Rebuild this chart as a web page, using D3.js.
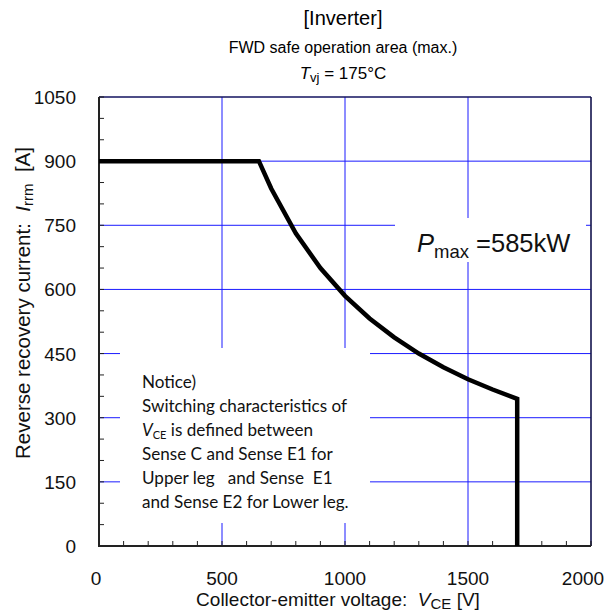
<!DOCTYPE html>
<html><head><meta charset="utf-8">
<script src="https://cdn.jsdelivr.net/npm/d3@7"></script>
<style>body{margin:0;background:#fff}svg{display:block}text{white-space:pre}</style>
</head><body>
<script>
const xTicks = [0, 500, 1000, 1500, 2000];
const yTicks = [0, 150, 300, 450, 600, 750, 900, 1050];
const voltage = [0, 650, 700, 800, 900, 1000, 1100, 1200, 1300, 1400, 1500, 1600, 1700, 1700];
const current = [900, 900, 836, 731, 650, 585, 532, 488, 450, 418, 390, 366, 344, 0];
const noticeLines = ["Notice)", "Switching characteristics of", "VCE", "Sense C and Sense E1 for", "Upper leg   and Sense  E1", "and Sense E2 for Lower leg."];

const W = 613, H = 614;
const svg = d3.select("body").append("svg").attr("width", W).attr("height", H);
const x = d3.scaleLinear().domain([0, 2000]).range([99, 591]);
const y = d3.scaleLinear().domain([0, 1050]).range([546, 97]);
const font = "'Liberation Sans', Arial, sans-serif";
const blue = "#1a1aff";

// grid
svg.append("g").selectAll("line").data(yTicks.slice(1)).join("line")
  .attr("x1", x(0)).attr("x2", x(2000)).attr("y1", d => y(d)).attr("y2", d => y(d))
  .attr("stroke", blue).attr("stroke-width", 1);
svg.append("g").selectAll("line").data(xTicks.slice(1)).join("line")
  .attr("y1", y(0)).attr("y2", y(1050)).attr("x1", d => x(d)).attr("x2", d => x(d))
  .attr("stroke", blue).attr("stroke-width", 1);

// minor ticks
const xMinor = d3.range(0, 2001, 100);
const yMinor = d3.range(0, 1051, 50);
svg.append("g").selectAll("line").data(xMinor).join("line")
  .attr("x1", d => x(d)).attr("x2", d => x(d)).attr("y1", y(0)).attr("y2", y(0) - 5)
  .attr("stroke", "#222").attr("stroke-width", 1);
svg.append("g").selectAll("line").data(yMinor).join("line")
  .attr("y1", d => y(d)).attr("y2", d => y(d)).attr("x1", x(0)).attr("x2", x(0) + 5)
  .attr("stroke", "#222").attr("stroke-width", 1);

// white boxes covering grid
svg.append("rect").attr("x", 120).attr("y", 348).attr("width", 250).attr("height", 175).attr("fill", "#fff");
svg.append("rect").attr("x", 395).attr("y", 218).attr("width", 191).attr("height", 44).attr("fill", "#fff");

// frame
svg.append("line").attr("x1", x(0)).attr("x2", x(2000)).attr("y1", y(1050)).attr("y2", y(1050)).attr("stroke", "#111").attr("stroke-width", 1.2);
svg.append("line").attr("x1", x(2000)).attr("x2", x(2000)).attr("y1", y(1050)).attr("y2", y(0)).attr("stroke", "#111").attr("stroke-width", 1.2);
svg.append("line").attr("x1", x(0)).attr("x2", x(0)).attr("y1", y(1050)).attr("y2", y(0) + 1).attr("stroke", "#222").attr("stroke-width", 2);
svg.append("line").attr("x1", x(0) - 1).attr("x2", x(2000)).attr("y1", y(0)).attr("y2", y(0)).attr("stroke", "#222").attr("stroke-width", 2);

// curve
const pts = voltage.map((v, i) => [v, current[i]]);
svg.append("path").datum(pts)
  .attr("d", d3.line().x(d => x(d[0])).y(d => y(d[1])))
  .attr("fill", "none").attr("stroke", "#000").attr("stroke-width", 4.5).attr("stroke-linejoin", "miter");

// tick labels
svg.append("g").selectAll("text").data(yTicks).join("text")
  .attr("x", 76).attr("y", d => y(d) + 7).attr("text-anchor", "end")
  .attr("font-family", font).attr("font-size", 19).attr("fill", "#111").text(d => d);
svg.append("g").selectAll("text").data(xTicks).join("text")
  .attr("x", d => x(d) - (d === 2000 ? 8 : d === 0 ? 3 : 0)).attr("y", 585).attr("text-anchor", "middle")
  .attr("font-family", font).attr("font-size", 19).attr("fill", "#111").text(d => d);

// titles
svg.append("text").attr("x", 343).attr("y", 25).attr("text-anchor", "middle")
  .attr("font-family", font).attr("font-size", 20).text("[Inverter]");
svg.append("text").attr("x", 343).attr("y", 53).attr("text-anchor", "middle")
  .attr("font-family", font).attr("font-size", 16).text("FWD safe operation area (max.)");
const t3 = svg.append("text").attr("x", 343).attr("y", 79).attr("text-anchor", "middle")
  .attr("font-family", font).attr("font-size", 17);
t3.append("tspan").attr("font-style", "italic").text("T");
t3.append("tspan").attr("font-size", 13).attr("dy", 3).text("vj");
t3.append("tspan").attr("dy", -3).text(" = 175°C");

// x axis title
const xt = svg.append("text").attr("x", 338).attr("y", 606).attr("text-anchor", "middle")
  .attr("font-family", font).attr("font-size", 19).attr("fill", "#111");
xt.append("tspan").text("Collector-emitter voltage:  ");
xt.append("tspan").attr("font-style", "italic").text("V");
xt.append("tspan").attr("font-size", 15).attr("dy", 3).text("CE");
xt.append("tspan").attr("dy", -3).text(" [V]");

// y axis title
const yt = svg.append("text").attr("transform", "translate(30,303) rotate(-90)").attr("text-anchor", "middle")
  .attr("font-family", font).attr("font-size", 20.5).attr("fill", "#111");
yt.append("tspan").text("Reverse recovery current:  ");
yt.append("tspan").attr("font-style", "italic").text("I");
yt.append("tspan").attr("font-size", 15).attr("dy", 3).text("rrm");
yt.append("tspan").attr("dy", -3).text("  [A]");

// Pmax label
const pm = svg.append("text").attr("x", 417).attr("y", 252)
  .attr("font-family", font).attr("font-size", 25.5).attr("fill", "#111");
pm.append("tspan").attr("font-style", "italic").text("P");
pm.append("tspan").attr("font-size", 18.5).attr("dy", 6).text("max");
pm.append("tspan").attr("dy", -6).text(" =585kW");

// notice text
const nf = "Lato, 'Open Sans', sans-serif";
noticeLines.forEach((s, i) => {
  const t = svg.append("text").attr("x", 142).attr("y", 388 + i * 24)
    .attr("font-family", nf).attr("font-size", 17.1).attr("fill", "#111");
  if (s === "VCE") {
    t.append("tspan").attr("font-style", "italic").text("V");
    t.append("tspan").attr("font-size", 11).attr("dy", 3).text("CE");
    t.append("tspan").attr("dy", -3).text(" is defined between");
  } else t.text(s);
});
</script>
</body></html>
